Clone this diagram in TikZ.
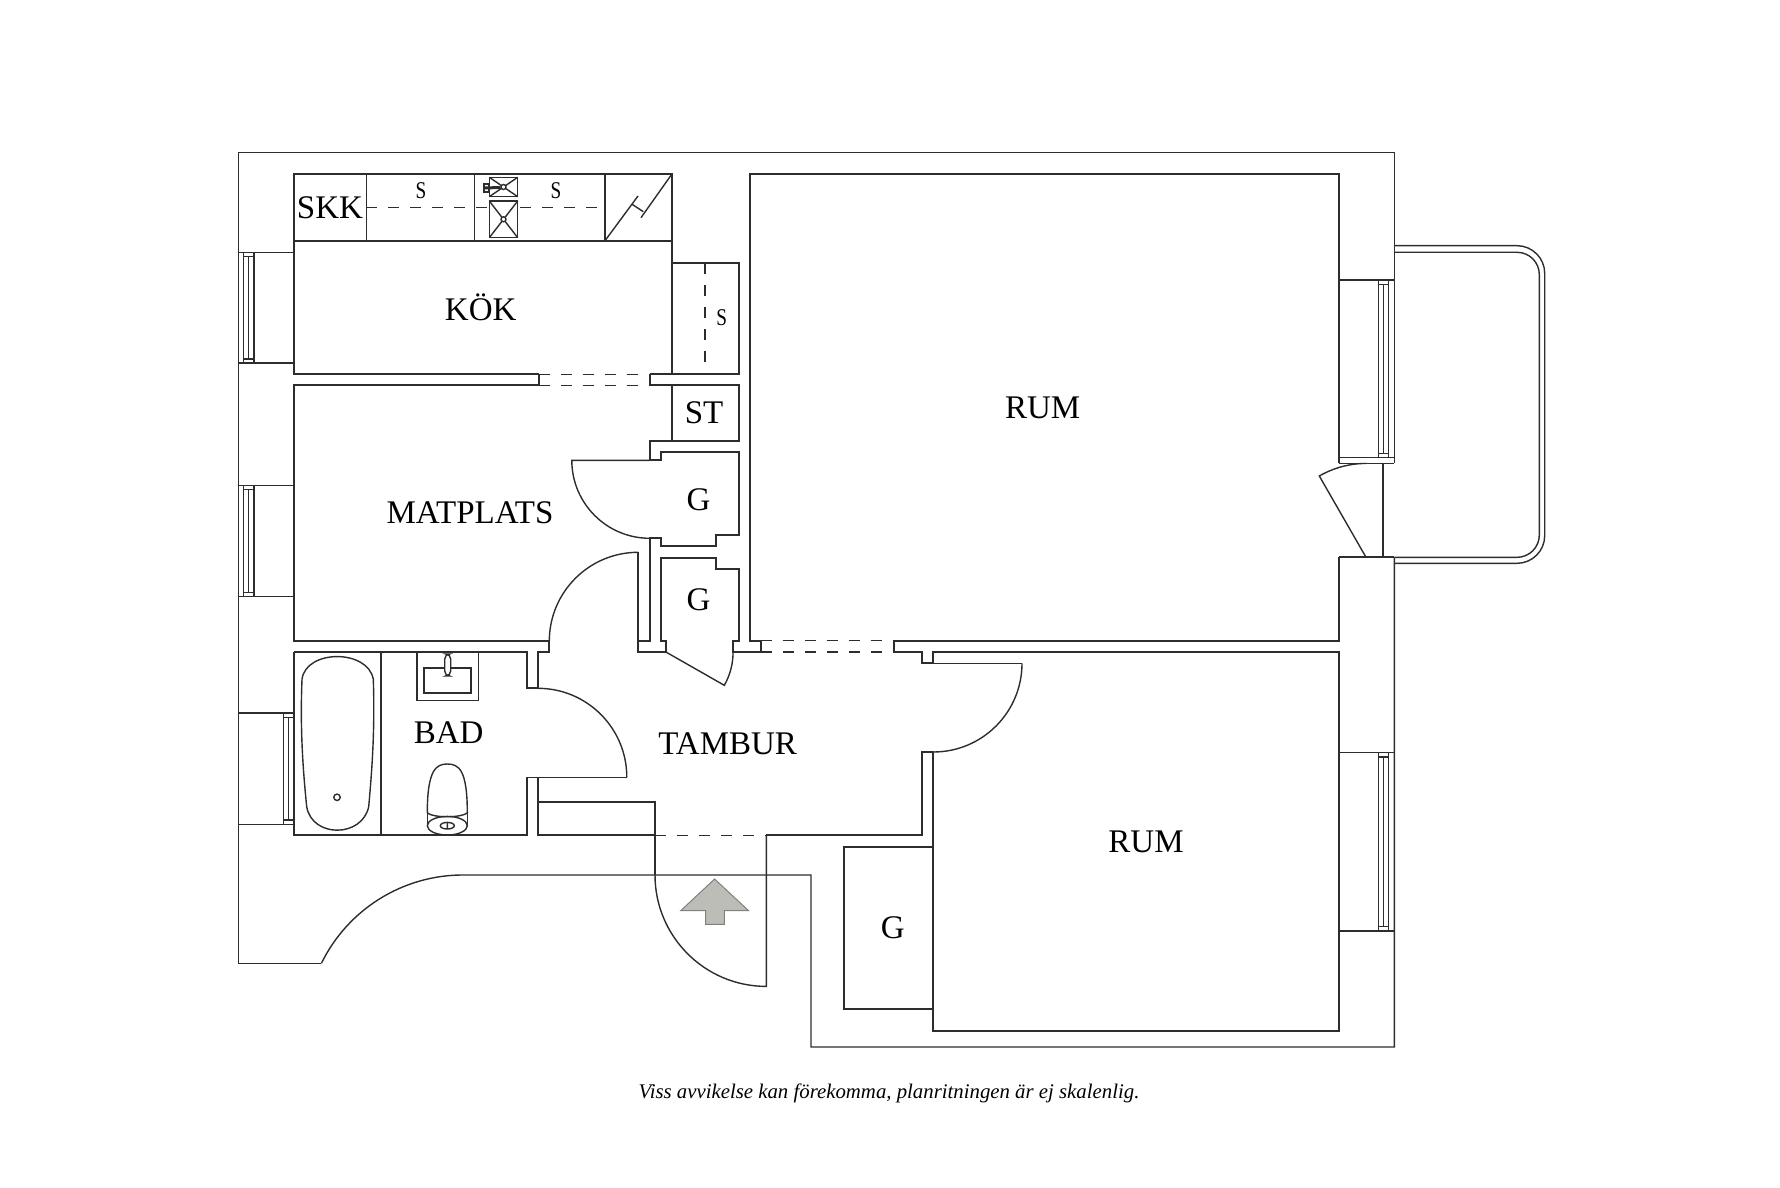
\documentclass[tikz,border=0pt]{standalone}
\usepackage{fontspec}
\setmainfont{Liberation Serif}
\usetikzlibrary{positioning}
\definecolor{wallink}{RGB}{45, 45, 45}
\definecolor{arrowgray}{RGB}{188, 189, 182}
\newcommand{\shelfS}{\scalebox{0.8}[1.0]{S}}

\begin{document}
\begin{tikzpicture}[x=0.5pt, y=-0.5pt, line join=miter,
    wall/.style={draw=wallink, line width=1pt},
    fine/.style={draw=wallink, line width=0.7pt},
    hidden/.style={draw=wallink, line width=0.55pt, dash pattern=on 5.5pt off 5.5pt},
    roomlabel/.style={font=\fontsize{16.5}{18}\selectfont, inner sep=0pt, text=black},
    cupboard/.style={font=\fontsize{12}{14}\selectfont, inner sep=0pt, text=black}]
    \useasboundingbox (0,0) rectangle (1780,1187);

    % Outer walls
    \draw[fine] (321.4,963.3) -- (238.2,963.3) -- (238.2,152.3) -- (1394.3,152.3) -- (1394.3,463.3);
    \draw[fine] (321.4,963.3) arc[start angle=206.1, end angle=270, radius=157.7] -- (811,875) -- (811,1047) -- (1394.3,1047) -- (1394.3,557.3);

    % Kitchen and dining room
    \draw[wall] (538.6,374.3) -- (293.6,374.3) -- (293.6,174) -- (672.1,174) -- (672.1,374.3);
    \draw[wall] (293.6,240.7) -- (672.1,240.7);
    \draw[fine] (366.4,174) -- (366.4,240.7) (474.6,174) -- (474.6,240.7) (605,174) -- (605,240.7);
    \draw[wall] (538.6,374.3) -- (538.6,385.3) -- (293.6,385.3) -- (293.6,641) -- (549.3,641) -- (549.3,652.3) -- (537.9,652.3) -- (537.9,688.3) -- (526.8,688.3) -- (526.8,652.3) -- (293.6,652.3);
    \draw[wall] (649.6,374.3) -- (738.6,374.3) -- (738.6,263) -- (672.1,263);
    \draw[wall] (649.6,374.3) -- (649.6,385.3) -- (738.6,385.3) -- (738.6,441) -- (649.6,441) -- (649.6,460.3) -- (661,460.3) -- (661,452.3) -- (738.6,452.3) -- (738.6,535) -- (715.7,535) -- (715.7,546) -- (661,546) -- (661,538.3) -- (649.6,538.3) -- (649.6,641) -- (638.2,641);
    \draw[fine] (672.1,385.3) -- (672.1,441);
    \draw[hidden] (366.4,207.7) -- (602,207.7);
    \draw[hidden] (705,263) -- (705,366);
    \draw[hidden] (538.6,374.3) -- (649.6,374.3) (538.6,385.3) -- (649.6,385.3);

    % Counter corner and stove
    \draw[fine] (605,240.7) -- (638,196) (641,217.7) -- (671.7,174.3) (631.7,204) -- (643.3,211.7);
    \draw[fine, fill=white] (489.3,177.3) rectangle (517.7,196.7);
    \draw[fine] (489.3,177.3) -- (517.7,196.7) (489.3,196.7) -- (517.7,177.3);
    \draw[fine, fill=white] (489.3,201) rectangle (517.7,237.7);
    \draw[fine] (489.3,201) -- (517.7,237.7) (489.3,237.7) -- (517.7,201);
    \draw[fine, fill=white] (503.5,187) circle[radius=2.5] (503.5,219.3) circle[radius=2.5];
    \draw[wall] (484,184) rectangle (489.3,192);
    \draw[draw=wallink, line width=1.5pt] (484,188) -- (500.5,187.5);

    % Small closets
    \draw[wall] (638.2,552.3) -- (638.2,652.3) -- (666.4,652.3) -- (666.4,641) -- (661,641) -- (661,557.7) -- (715.7,557.7) -- (715.7,569) -- (738.6,569) -- (738.6,641) -- (733.2,641) -- (733.2,652.3) -- (760.7,652.3) -- (760.7,640.7) -- (749.7,640.7) -- (749.7,174) -- (1338.7,174) -- (1338.7,463.3);

    % Room walls
    \draw[wall] (1338.7,557.3) -- (1394.3,557.3);
    \draw[wall] (1338.7,557.3) -- (1338.7,641) -- (894,641) -- (894,652) -- (922,652) -- (922,663.3) -- (933.3,663.3) -- (933.3,652) -- (1338.7,652) -- (1338.7,1031) -- (933.3,1031) -- (933.3,752) -- (922,752) -- (922,835.3) -- (766.4,835.3);
    \draw[fine] (922,663.3) -- (1022,663.3);
    \draw[hidden] (760.7,640.7) -- (894,640.7) (760.7,652) -- (894,652);
    \draw[wall] (933.3,847.2) -- (843.8,847.2) -- (843.8,1008.5) -- (933.3,1008.5);

    % Bathroom
    \draw[wall] (526.8,777.3) -- (526.8,835.3) -- (293.6,835.3) -- (293.6,652.3);
    \draw[fine] (526.8,777.3) -- (626.8,777.3);
    \draw[wall] (537.9,777.3) -- (537.9,835.3) -- (655,835.3) (537.9,802.3) -- (655,802.3) -- (655,875);
    \draw[fine] (381,652.3) -- (381,835.3);
    \draw[hidden] (655,835.3) -- (766.4,835.3);
    % bath tub
    \draw[fine] (302,679.3) .. controls (306,649) and (368,649) .. (373.3,679.3) .. controls (375,730) and (372,770) .. (368.7,806.7) .. controls (362,838) and (312,838) .. (306.7,806.7) .. controls (303,770) and (300,730) .. (302,679.3) -- cycle;
    \draw[fine] (337,797.3) circle[radius=3.2];
    % basin
    \draw[fine] (417,652.3) -- (417,700.3) -- (478.3,700.3) -- (478.3,652.3);
    \draw[wall] (424.3,667.7) rectangle (470.7,692.7);
    \draw[fine, fill=white, rounded corners=2.5pt] (444.7,654) rectangle (450.7,676);
    % toilet
    \draw[fine] (427.3,813) .. controls (427.3,770) and (436,764) .. (447.3,764) .. controls (459,764) and (467.3,770) .. (467.3,813) .. controls (460,818) and (434,818) .. (427.3,813);
    \draw[fine] (427.3,813) -- (427.3,827) (467.3,813) -- (467.3,827);
    \draw[fine] (447.3,825.7) ellipse[x radius=20, y radius=9.3];
    \draw[fine] (447.3,825.7) ellipse[x radius=7, y radius=3.3] (447.3,822.4) -- (447.3,829);

    % Doors
    \draw[fine] (649.6,460.3) -- (571.8,460.3) arc[start angle=180, end angle=90, radius=78];
    \draw[fine] (638.2,552.3) arc[start angle=270, end angle=180, radius=88.9];
    \draw[fine] (537.9,688.3) arc[start angle=270, end angle=360, radius=88.9];
    \draw[fine] (1022,663.3) arc[start angle=0, end angle=90, radius=88.7];
    \draw[fine] (655,875) arc[start angle=180, end angle=90, radius=111.4] -- (766.4,835.3);
    \draw[fine] (666.4,652.3) -- (724.3,685.3) arc[start angle=29.7, end angle=0, radius=66.6];
    \draw[fine] (1366,557.3) -- (1319.3,476) arc[start angle=240, end angle=270, radius=93.8];

    % Windows
    \foreach \ya/\yb in {252.3/363, 485.7/596.3} {
        \draw[fine] (238.2,\ya) -- (293.6,\ya) (238.2,\yb) -- (293.6,\yb);
        \draw[fine] (243.6,\ya) -- (243.6,\yb) (248.6,\ya+4) -- (248.6,\yb-4) (254,\ya) -- (254,\yb);
        \draw[fine] (243.6,\ya+4) -- (254,\ya+4) (243.6,\yb-4) -- (254,\yb-4);
    }
    \draw[fine] (238.2,713) -- (293.6,713) (238.2,824.3) -- (293.6,824.3);
    \draw[fine] (283.6,713) -- (283.6,824.3) (288.6,717.7) -- (288.6,820);
    \draw[fine] (283.6,717.7) -- (293.6,717.7) (283.6,820) -- (293.6,820);
    \foreach \ya/\yb in {280/457.7, 752.3/931} {
        \draw[fine] (1338.7,\ya) -- (1394.3,\ya) (1338.7,\yb) -- (1394.3,\yb);
        \draw[fine] (1378.7,\ya) -- (1378.7,\yb) (1383.5,\ya+4.5) -- (1383.5,\yb-4.5) (1388.7,\ya) -- (1388.7,\yb);
        \draw[fine] (1378.7,\ya+4.5) -- (1388.7,\ya+4.5) (1378.7,\yb-4.5) -- (1388.7,\yb-4.5);
    }
    \draw[fine] (1338.7,463.3) -- (1394.3,463.3) (1383,463.3) -- (1383,557.3);

    % Balcony
    \draw[fine] (1394.3,245.7) -- (1517,245.7) arc[start angle=270, end angle=360, radius=27.7] -- (1544.7,535.6) arc[start angle=0, end angle=90, radius=27.7] -- (1394.3,563.3);
    \draw[fine] (1394.3,252.3) -- (1517,252.3) arc[start angle=270, end angle=360, radius=22.3] -- (1539.3,535) arc[start angle=0, end angle=90, radius=22.3] -- (1394.3,557.3);

    % Entrance arrow
    \draw[draw=gray, fill=arrowgray, line width=0.5pt] (714.6,879) -- (748.6,910.7) -- (724.3,910.7) -- (724.3,924.3) -- (705.7,924.3) -- (705.7,910.7) -- (680.7,910.7) -- cycle;

    % Labels
    \node[roomlabel] (skk) at (330,207.3) {SKK};
    \node[roomlabel] (kok) at (480.7,307.5) {KÖK};
    \node[roomlabel] (st) at (704,413) {ST};
    \node[roomlabel] (gupper) at (698.6,499.3) {G};
    \node[roomlabel] (glower) at (698.6,599.3) {G};
    \node[roomlabel] (matplats) at (470,513) {MATPLATS};
    \node[roomlabel] (bad) at (448.6,732.3) {BAD};
    \node[roomlabel] (tambur) at (727.7,743.3) {TAMBUR};
    \node[roomlabel] (rumone) at (1042.6,407.7) {RUM};
    \node[roomlabel] (rumtwo) at (1146,841.5) {RUM};
    \node[roomlabel] (groom) at (892.7,928) {G};
    \node[cupboard] (sa) at (421,191) {\shelfS};
    \node[cupboard] (sb) at (556,191) {\shelfS};
    \node[cupboard] (sc) at (721.8,318) {\shelfS};
    \node[font=\fontsize{10.4}{12}\selectfont\itshape, inner sep=0pt] (note) at (889,1093.4) {Viss avvikelse kan förekomma, planritningen är ej skalenlig.};
\end{tikzpicture}
\end{document}
